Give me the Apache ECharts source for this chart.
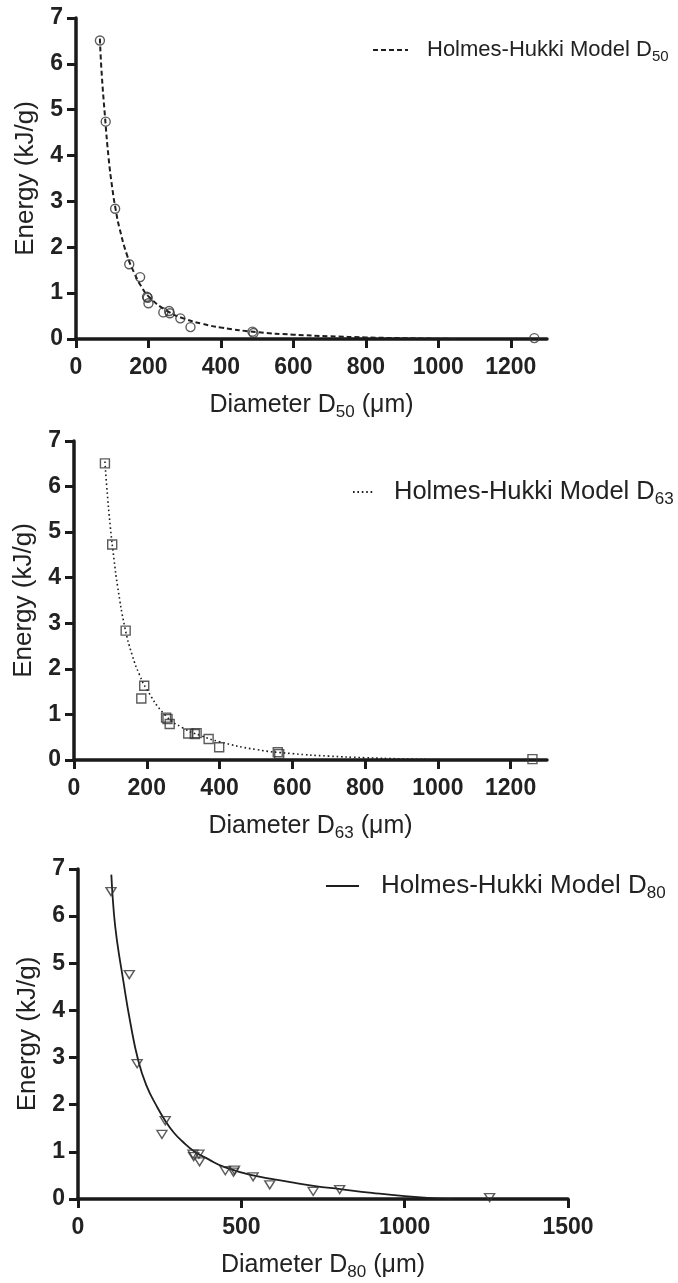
<!DOCTYPE html>
<html>
<head>
<meta charset="utf-8">
<title>Holmes-Hukki energy vs diameter</title>
<script src="https://cdn.jsdelivr.net/npm/echarts@6/dist/echarts.min.js"></script>
<style>
html, body { margin: 0; padding: 0; background: #fff; }
#chart { width: 678px; height: 1283px; }
</style>
</head>
<body>
<div id="chart"></div>
<script>
"use strict";
var d50X = [66, 82, 108, 147, 177, 196, 198, 200, 241, 257, 259, 288, 316, 487, 490, 1265];
var d50E = [6.51, 4.74, 2.84, 1.63, 1.35, 0.92, 0.90, 0.78, 0.58, 0.61, 0.56, 0.45, 0.26, 0.16, 0.13, 0.02];
var d63X = [85, 105, 142, 185, 193, 253, 257, 263, 314, 332, 337, 370, 399, 560, 564, 1260];
var d63E = [6.51, 4.73, 2.84, 1.35, 1.63, 0.93, 0.90, 0.79, 0.58, 0.57, 0.59, 0.46, 0.28, 0.17, 0.13, 0.02];
var d80X = [101, 157, 181, 257, 267, 352, 354, 370, 372, 451, 476, 479, 536, 587, 720, 801, 1260];
var d80E = [6.52, 4.76, 2.87, 1.37, 1.66, 0.95, 0.90, 0.95, 0.79, 0.60, 0.57, 0.61, 0.47, 0.30, 0.16, 0.20, 0.03];

// model curves
var fit50X = [66, 70, 80, 90, 100, 110, 120, 140, 160, 180, 200, 250, 300, 350, 400, 500, 600, 700, 800, 900, 1000, 1050];
var fit50E = [6.55, 5.9, 4.85, 3.95, 3.3, 2.8, 2.42, 1.85, 1.45, 1.15, 0.93, 0.62, 0.44, 0.33, 0.25, 0.15, 0.095, 0.06, 0.035, 0.018, 0.006, 0];
var fit63X = [85, 90, 100, 110, 120, 140, 160, 180, 200, 250, 300, 350, 400, 500, 600, 700, 800, 900, 1000, 1050];
var fit63E = [6.55, 6.0, 5.1, 4.4, 3.8, 2.9, 2.3, 1.87, 1.55, 0.99, 0.7, 0.53, 0.4, 0.23, 0.14, 0.085, 0.05, 0.025, 0.008, 0];
var fit80X = [102, 110, 120, 137, 160, 185, 210, 240, 267, 293, 320, 354, 400, 451, 536, 650, 721, 803, 900, 1000, 1100, 1150];
var fit80E = [6.88, 6.05, 5.45, 4.7, 3.75, 2.92, 2.4, 1.98, 1.66, 1.41, 1.22, 1.02, 0.84, 0.67, 0.5, 0.36, 0.28, 0.21, 0.13, 0.06, 0.01, 0];

var yTicks = [0, 1, 2, 3, 4, 5, 6, 7];
var xTicksA = [0, 200, 400, 600, 800, 1000, 1200];
var xTicksB = [0, 500, 1000, 1500];

var FONT = "'Liberation Sans', Arial, sans-serif";
var INK = "#222";

function pairs(xs, ys) {
    var out = [];
    for (var i = 0; i < xs.length; i++) {
        out.push([xs[i], ys[i]]);
    }
    return out;
}

function subRich(size, subSize) {
    return {
        a: { fontSize: size, fontFamily: FONT, color: INK, lineHeight: size + 6 },
        s: { fontSize: subSize, fontFamily: FONT, color: INK, verticalAlign: "bottom", lineHeight: 12 }
    };
}

function plain(v) {
    return String(v);
}

function makeX(idx, max, interval, ticks, sub) {
    return {
        type: "value", gridIndex: idx, min: 0, max: max, interval: interval,
        name: "{a|Diameter D}{s|" + sub + "}{a| (\u03bcm)}",
        nameLocation: "middle", nameGap: 51,
        nameTextStyle: { rich: subRich(25, 17) },
        axisLine: { show: true, onZero: false, lineStyle: { color: "#1a1a1a", width: 3.5 } },
        axisTick: { show: true, length: 9, customValues: ticks, lineStyle: { color: "#1a1a1a", width: 3 } },
        axisLabel: { customValues: ticks, formatter: plain, margin: 17, fontSize: 23, fontWeight: "bold", color: INK, fontFamily: FONT },
        splitLine: { show: false }
    };
}

function makeY(idx, gap) {
    return {
        type: "value", gridIndex: idx, min: 0, max: 7, interval: 1,
        name: "Energy (kJ/g)", nameLocation: "middle", nameGap: gap,
        nameTextStyle: { fontSize: 26, color: INK, fontFamily: FONT },
        axisLine: { show: true, onZero: false, lineStyle: { color: "#1a1a1a", width: 3.5 } },
        axisTick: { show: true, length: 9, customValues: yTicks, lineStyle: { color: "#1a1a1a", width: 3 } },
        axisLabel: { customValues: yTicks, formatter: plain, margin: 13, fontSize: 23, fontWeight: "bold", color: INK, fontFamily: FONT },
        splitLine: { show: false }
    };
}

function makeLegend(name, sub, left, top, iconW, size, subSize, textPad) {
    var rich = subRich(size, subSize);
    rich.a.padding = [0, 0, 0, textPad];
    return {
        data: [name], left: left, top: top, padding: 0,
        itemWidth: iconW, itemHeight: 12,
        itemStyle: { opacity: 0 },
        formatter: function() { return "{a|Holmes-Hukki Model D}{s|" + sub + "}"; },
        textStyle: { rich: rich }
    };
}

function curve(name, idx, xs, ys, dash, width) {
    return {
        name: name, type: "line", xAxisIndex: idx, yAxisIndex: idx,
        data: pairs(xs, ys), symbol: "none", smooth: 0.5,
        silent: true, z: 3,
        lineStyle: { color: "#1e1e1e", width: width, type: dash },
        itemStyle: { color: "#1e1e1e" }
    };
}

function points(name, idx, xs, ys, symbol, size, rotate) {
    return {
        name: name, type: "scatter", xAxisIndex: idx, yAxisIndex: idx,
        data: pairs(xs, ys), symbol: symbol, symbolSize: size, symbolRotate: rotate || 0,
        silent: true, z: 4,
        itemStyle: { color: "rgba(255,255,255,0)", borderColor: "#333", borderWidth: 1.4 }
    };
}

var chart = echarts.init(document.getElementById("chart"), null, { renderer: "canvas" });
var option = {
    animation: false,
    backgroundColor: "#fff",
    textStyle: { fontFamily: FONT },
    grid: [
        { left: 76, top: 18, width: 471, height: 321 },
        { left: 74, top: 441, width: 473, height: 319 },
        { left: 78, top: 869, width: 490, height: 330 }
    ],
    xAxis: [
        makeX(0, 1300, 200, xTicksA, "50"),
        makeX(1, 1300, 200, xTicksA, "63"),
        makeX(2, 1500, 500, xTicksB, "80")
    ],
    yAxis: [makeY(0, 33), makeY(1, 33), makeY(2, 35)],
    legend: [
        makeLegend("Holmes-Hukki Model D50", "50", 372, 39, 35, 22, 15, 14),
        makeLegend("Holmes-Hukki Model D63", "63", 352, 479, 22, 25.5, 17, 14),
        makeLegend("Holmes-Hukki Model D80", "80", 325, 873, 33, 26, 17, 17)
    ],
    series: [
        curve("Holmes-Hukki Model D50", 0, fit50X, fit50E, [5, 3], 2),
        points("D50 data", 0, d50X, d50E, "circle", 9),
        curve("Holmes-Hukki Model D63", 1, fit63X, fit63E, [1.6, 2.8], 1.6),
        points("D63 data", 1, d63X, d63E, "rect", 9),
        curve("Holmes-Hukki Model D80", 2, fit80X, fit80E, "solid", 1.8),
        points("D80 data", 2, d80X, d80E, "triangle", [10, 8], 180)
    ]
};
chart.setOption(option);
</script>
</body>
</html>
